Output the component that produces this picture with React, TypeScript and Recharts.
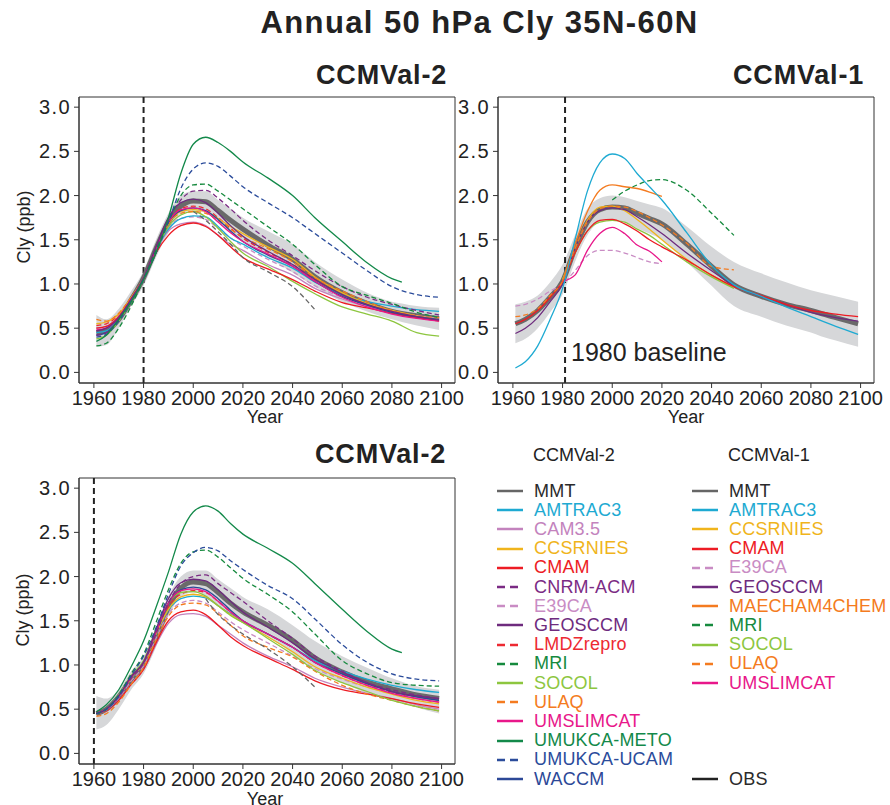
import React from 'react'
import { ComposedChart, Line, Area, XAxis, YAxis, ReferenceLine, ReferenceArea } from 'recharts'

const n = null

// sample years shared by every series (null = no value at that year)
const YEARS = [1961, 1965, 1970, 1975, 1980, 1985, 1990, 1995, 2000, 2005, 2010, 2015, 2020, 2030, 2040, 2049, 2060, 2070, 2080, 2084, 2090, 2099]
const XTICKS = [1960, 1980, 2000, 2020, 2040, 2060, 2080, 2100]
const YTICKS = [0, 0.5, 1, 1.5, 2, 2.5, 3]

// ---- top left: CCMVal-2, 1980 baseline
const p1Lo = [0.29, 0.31, 0.5, 0.75, 0.98, 1.3, 1.58, 1.78, 1.83, 1.8, 1.7, 1.58, 1.48, 1.3, 1.13, 0.97, 0.8, 0.69, 0.6, 0.57, 0.53, 0.48]
const p1Hi = [0.65, 0.6, 0.72, 0.92, 1.15, 1.5, 1.8, 2.0, 2.05, 2.05, 1.95, 1.85, 1.75, 1.6, 1.45, 1.25, 1.05, 0.9, 0.8, 0.78, 0.75, 0.73]
const p1MMT = [0.45, 0.47, 0.6, 0.82, 1.07, 1.4, 1.7, 1.88, 1.94, 1.93, 1.83, 1.72, 1.62, 1.44, 1.28, 1.08, 0.9, 0.78, 0.69, n, 0.64, 0.61]
const p1Meto = [0.35, 0.42, 0.6, 0.8, 1.05, 1.35, 1.75, 2.25, 2.58, 2.66, 2.6, 2.5, 2.38, 2.2, 2.0, 1.75, 1.48, 1.24, 1.06, 1.02, n, n]
const p1Ucam = [0.4, 0.43, 0.58, 0.8, 1.05, 1.35, 1.7, 2.08, 2.3, 2.37, 2.33, 2.22, 2.1, 1.92, 1.75, 1.57, 1.35, 1.15, 0.97, n, 0.88, 0.85]
const p1Mri = [0.3, 0.33, 0.5, 0.75, 1.05, 1.38, 1.7, 2.0, 2.12, 2.13, 2.05, 1.95, 1.85, 1.65, 1.45, 1.22, 0.97, 0.87, 0.78, n, 0.68, 0.62]
const p1Cnrm = [0.42, 0.45, 0.6, 0.82, 1.07, 1.4, 1.72, 1.95, 2.05, 2.06, 1.97, 1.85, 1.72, 1.5, 1.32, 1.15, 0.97, 0.85, 0.77, n, 0.7, 0.65]
const p1Gray = [n, n, n, n, n, n, n, n, 1.82, 1.72, 1.59, 1.45, 1.3, 1.14, 0.97, 0.71, n, n, n, n, n, n]
const p1Cmam = [0.5, 0.52, 0.63, 0.83, 1.05, 1.35, 1.55, 1.66, 1.69, 1.65, 1.55, 1.42, 1.3, 1.17, 1.05, 0.92, 0.79, 0.73, 0.67, n, 0.62, 0.58]
const p1Socol = [0.38, 0.42, 0.58, 0.8, 1.05, 1.38, 1.65, 1.78, 1.82, 1.76, 1.63, 1.48, 1.35, 1.2, 1.03, 0.89, 0.74, 0.66, 0.58, n, 0.45, 0.41]
const p1Amtrac = [0.45, 0.47, 0.6, 0.82, 1.05, 1.38, 1.62, 1.74, 1.77, 1.76, 1.65, 1.52, 1.45, 1.3, 1.18, 1.02, 0.88, 0.8, 0.75, n, 0.71, 0.69]
const p1Cam = [0.5, 0.52, 0.63, 0.83, 1.05, 1.38, 1.6, 1.68, 1.7, 1.66, 1.55, 1.45, 1.38, 1.22, 1.1, 0.95, 0.83, 0.74, 0.68, n, 0.64, 0.61]
const p1Ccsr = [0.55, 0.57, 0.66, 0.85, 1.07, 1.4, 1.68, 1.82, 1.84, 1.82, 1.74, 1.65, 1.57, 1.42, 1.28, 1.08, 0.9, 0.78, 0.7, n, 0.64, 0.6]
const p1Geos = [0.47, 0.5, 0.62, 0.83, 1.07, 1.42, 1.75, 1.92, 1.96, 1.92, 1.8, 1.66, 1.54, 1.37, 1.22, 1.05, 0.88, 0.77, 0.69, n, 0.63, 0.59]
const p1Waccm = [0.42, 0.45, 0.6, 0.82, 1.06, 1.4, 1.7, 1.83, 1.86, 1.83, 1.73, 1.6, 1.48, 1.33, 1.2, 1.03, 0.86, 0.76, 0.68, n, 0.63, 0.6]
const p1Umsl = [0.48, 0.5, 0.62, 0.83, 1.06, 1.4, 1.7, 1.84, 1.86, 1.82, 1.7, 1.58, 1.48, 1.34, 1.2, 1.03, 0.85, 0.74, 0.66, n, 0.61, 0.58]
const p1Ulaq = [0.6, 0.58, 0.67, 0.85, 1.07, 1.4, 1.68, 1.8, 1.82, 1.8, 1.72, 1.62, 1.53, 1.4, 1.25, 1.07, 0.92, 0.8, 0.7, n, 0.64, 0.62]
const p1Lmdz = [0.53, 0.55, 0.65, 0.84, 1.06, 1.4, 1.7, 1.85, 1.88, 1.85, 1.75, 1.63, 1.52, 1.36, 1.22, 1.05, 0.88, 0.77, 0.7, n, 0.64, 0.6]
const p1E39 = [0.5, 0.52, 0.64, 0.84, 1.06, 1.38, 1.64, 1.74, 1.76, 1.73, 1.63, 1.52, 1.43, 1.28, 1.14, 0.98, 0.85, 0.76, 0.69, n, 0.64, 0.61]

// ---- top right: CCMVal-1, 1980 baseline
const p2Lo = [0.33, 0.38, 0.5, 0.68, 0.88, 1.25, 1.55, 1.7, 1.73, 1.7, 1.63, 1.57, 1.5, 1.25, 0.98, 0.75, 0.63, 0.53, 0.45, 0.41, 0.36, 0.29]
const p2Hi = [0.77, 0.8, 0.87, 1.02, 1.22, 1.55, 1.85, 1.97, 2.0, 1.98, 1.94, 1.9, 1.86, 1.65, 1.42, 1.25, 1.12, 1.02, 0.93, 0.9, 0.86, 0.8]
const p2MMT = [0.55, 0.6, 0.7, 0.85, 1.03, 1.4, 1.7, 1.84, 1.87, 1.86, 1.8, 1.74, 1.68, 1.45, 1.2, 0.99, 0.86, 0.77, 0.7, n, 0.62, 0.55]
const p2Amtrac = [0.05, 0.12, 0.3, 0.6, 0.95, 1.5, 2.05, 2.37, 2.47, 2.42, 2.25, 2.1, 1.95, 1.58, 1.21, 0.99, 0.86, 0.74, 0.63, n, 0.52, 0.43]
const p2Maecham = [n, n, n, n, 1.03, 1.45, 1.82, 2.06, 2.12, 2.1, 2.08, 2.04, 1.99, n, n, n, n, n, n, n, n, n]
const p2Mri = [n, n, n, n, n, n, n, n, 1.95, 2.05, 2.12, 2.17, 2.18, 2.06, 1.8, 1.55, n, n, n, n, n, n]
const p2E39 = [0.75, 0.77, 0.83, 0.92, 1.0, 1.15, 1.32, 1.38, 1.38, 1.35, 1.3, 1.25, 1.23, n, n, n, n, n, n, n, n, n]
const p2Umsl = [n, n, n, n, 1.03, 1.1, 1.38, 1.57, 1.64, 1.57, 1.44, 1.37, 1.25, n, n, n, n, n, n, n, n, n]
const p2Cmam = [0.55, 0.6, 0.7, 0.85, 1.03, 1.35, 1.6, 1.72, 1.73, 1.68, 1.6, 1.5, 1.42, 1.27, 1.1, 0.97, 0.87, 0.77, 0.7, n, 0.66, 0.63]
const p2Geos = [0.44, 0.5, 0.62, 0.8, 1.0, 1.4, 1.7, 1.83, 1.86, 1.84, 1.76, 1.67, 1.57, 1.35, 1.15, 0.98, 0.86, 0.77, 0.68, n, 0.62, 0.58]
const p2Socol = [n, n, n, n, 1.05, 1.35, 1.6, 1.7, 1.72, 1.7, 1.62, 1.55, 1.45, 1.25, 1.08, 0.95, n, n, n, n, n, n]
const p2Ccsr = [n, n, n, n, 1.05, 1.4, 1.72, 1.87, 1.88, 1.83, 1.73, 1.62, 1.5, 1.28, 1.1, 0.96, n, n, n, n, n, n]
const p2Ulaq = [0.63, 0.65, 0.72, 0.87, 1.03, 1.4, 1.7, 1.85, 1.88, 1.87, 1.82, 1.75, 1.67, 1.46, 1.2, 1.16, n, n, n, n, n, n]

// ---- bottom left: CCMVal-2, 1960 baseline
const p3Lo = [0.27, 0.32, 0.5, 0.72, 0.9, 1.2, 1.55, 1.77, 1.82, 1.78, 1.67, 1.57, 1.47, 1.32, 1.13, 0.95, 0.8, 0.68, 0.6, 0.57, 0.52, 0.45]
const p3Hi = [0.65, 0.62, 0.72, 0.93, 1.1, 1.42, 1.78, 2.0, 2.07, 2.07, 1.97, 1.87, 1.77, 1.63, 1.45, 1.27, 1.1, 0.97, 0.85, 0.81, 0.76, 0.72]
const p3MMT = [0.45, 0.5, 0.64, 0.84, 1.0, 1.3, 1.65, 1.87, 1.94, 1.92, 1.82, 1.7, 1.6, 1.45, 1.28, 1.08, 0.92, 0.81, 0.73, n, 0.66, 0.62]
const p3Meto = [0.47, 0.55, 0.72, 0.98, 1.27, 1.65, 2.05, 2.48, 2.73, 2.8, 2.74, 2.6, 2.48, 2.32, 2.15, 1.92, 1.63, 1.38, 1.18, 1.14, n, n]
const p3Ucam = [0.45, 0.5, 0.65, 0.88, 1.1, 1.42, 1.8, 2.12, 2.27, 2.33, 2.29, 2.18, 2.08, 1.9, 1.75, 1.52, 1.23, 1.03, 0.9, n, 0.84, 0.82]
const p3Mri = [0.45, 0.5, 0.66, 0.9, 1.12, 1.48, 1.85, 2.15, 2.28, 2.3, 2.22, 2.1, 1.98, 1.8, 1.6, 1.35, 1.05, 0.9, 0.8, n, 0.77, 0.76]
const p3Cnrm = [0.45, 0.5, 0.64, 0.85, 1.02, 1.35, 1.7, 1.92, 2.0, 2.02, 1.92, 1.82, 1.72, 1.5, 1.3, 1.1, 0.93, 0.8, 0.72, n, 0.66, 0.62]
const p3Gray = [n, n, n, n, n, n, n, n, n, 1.75, 1.57, 1.45, 1.35, 1.18, 0.98, 0.75, n, n, n, n, n, n]
const p3Ulaq = [0.42, 0.45, 0.58, 0.78, 0.97, 1.28, 1.55, 1.68, 1.7, 1.68, 1.58, 1.45, 1.33, 1.2, 1.09, 0.93, 0.77, 0.67, 0.6, n, 0.53, 0.48]
const p3Cmam = [0.45, 0.48, 0.6, 0.78, 0.95, 1.25, 1.5, 1.6, 1.62, 1.57, 1.45, 1.32, 1.22, 1.08, 0.95, 0.82, 0.72, 0.67, 0.62, n, 0.56, 0.52]
const p3Cam = [0.45, 0.48, 0.6, 0.78, 0.95, 1.23, 1.47, 1.57, 1.58, 1.55, 1.45, 1.35, 1.25, 1.1, 0.98, 0.85, 0.75, 0.68, 0.62, n, 0.55, 0.5]
const p3Amtrac = [0.45, 0.49, 0.63, 0.85, 1.02, 1.35, 1.62, 1.75, 1.78, 1.76, 1.67, 1.58, 1.5, 1.35, 1.2, 1.05, 0.93, 0.84, 0.77, n, 0.72, 0.69]
const p3Ccsr = [0.45, 0.5, 0.64, 0.85, 1.02, 1.35, 1.63, 1.77, 1.8, 1.77, 1.67, 1.57, 1.48, 1.32, 1.15, 0.98, 0.85, 0.75, 0.67, n, 0.6, 0.56]
const p3Socol = [0.45, 0.5, 0.66, 0.88, 1.05, 1.4, 1.7, 1.82, 1.83, 1.78, 1.67, 1.56, 1.48, 1.3, 1.12, 0.94, 0.8, 0.7, 0.6, n, 0.53, 0.48]
const p3Geos = [0.45, 0.5, 0.65, 0.87, 1.03, 1.4, 1.75, 1.93, 1.97, 1.95, 1.85, 1.72, 1.6, 1.43, 1.25, 1.07, 0.92, 0.8, 0.7, n, 0.65, 0.62]
const p3Waccm = [0.45, 0.5, 0.65, 0.86, 1.03, 1.37, 1.7, 1.85, 1.88, 1.85, 1.75, 1.62, 1.5, 1.35, 1.2, 1.03, 0.9, 0.79, 0.7, n, 0.64, 0.6]
const p3Umsl = [0.46, 0.5, 0.64, 0.86, 1.03, 1.37, 1.7, 1.84, 1.86, 1.83, 1.72, 1.6, 1.5, 1.35, 1.2, 1.03, 0.88, 0.77, 0.68, n, 0.62, 0.58]
const p3Lmdz = [0.45, 0.5, 0.64, 0.85, 1.02, 1.35, 1.66, 1.8, 1.84, 1.82, 1.72, 1.6, 1.5, 1.35, 1.2, 1.03, 0.88, 0.77, 0.69, n, 0.62, 0.58]
const p3E39 = [0.45, 0.49, 0.62, 0.82, 0.99, 1.3, 1.58, 1.7, 1.73, 1.7, 1.6, 1.49, 1.4, 1.25, 1.1, 0.96, 0.84, 0.75, 0.68, n, 0.62, 0.59]

const STYLE: Record<string, { color: string; dash?: boolean }> = {
  MMT: { color: '#6a6a6a' },
  AMTRAC3: { color: '#1eaad2' },
  'CAM3.5': { color: '#c383bd' },
  CCSRNIES: { color: '#f0b41c' },
  CMAM: { color: '#ed1c24' },
  'CNRM-ACM': { color: '#7b2b84', dash: true },
  E39CA: { color: '#c98cc4', dash: true },
  GEOSCCM: { color: '#6e2b7e' },
  LMDZrepro: { color: '#ed2a32', dash: true },
  MRI: { color: '#168a3e', dash: true },
  SOCOL: { color: '#8dc63f' },
  ULAQ: { color: '#f47b20', dash: true },
  UMSLIMCAT: { color: '#e8178a' },
  'UMUKCA-METO': { color: '#13894a' },
  'UMUKCA-UCAM': { color: '#2b4c9b', dash: true },
  WACCM: { color: '#2c4897' },
  MAECHAM4CHEM: { color: '#f47b20' },
  OBS: { color: '#222222' },
  other: { color: '#666666', dash: true },
}

const LEGEND_V2 = ['MMT', 'AMTRAC3', 'CAM3.5', 'CCSRNIES', 'CMAM', 'CNRM-ACM', 'E39CA', 'GEOSCCM', 'LMDZrepro', 'MRI', 'SOCOL', 'ULAQ', 'UMSLIMCAT', 'UMUKCA-METO', 'UMUKCA-UCAM', 'WACCM']
const LEGEND_V1 = ['MMT', 'AMTRAC3', 'CCSRNIES', 'CMAM', 'E39CA', 'GEOSCCM', 'MAECHAM4CHEM', 'MRI', 'SOCOL', 'ULAQ', 'UMSLIMCAT']

type Series = [string, (number | null)[]]

const panel1: Series[] = [
  ['LMDZrepro', p1Lmdz], ['E39CA', p1E39], ['CAM3.5', p1Cam], ['AMTRAC3', p1Amtrac], ['SOCOL', p1Socol],
  ['CCSRNIES', p1Ccsr], ['ULAQ', p1Ulaq], ['CMAM', p1Cmam], ['WACCM', p1Waccm], ['UMSLIMCAT', p1Umsl],
  ['GEOSCCM', p1Geos], ['other', p1Gray], ['CNRM-ACM', p1Cnrm], ['MRI', p1Mri], ['UMUKCA-UCAM', p1Ucam],
  ['UMUKCA-METO', p1Meto],
]
const panel2: Series[] = [
  ['E39CA', p2E39], ['CCSRNIES', p2Ccsr], ['SOCOL', p2Socol], ['GEOSCCM', p2Geos], ['CMAM', p2Cmam],
  ['UMSLIMCAT', p2Umsl], ['ULAQ', p2Ulaq], ['MAECHAM4CHEM', p2Maecham], ['MRI', p2Mri], ['AMTRAC3', p2Amtrac],
]
const panel3: Series[] = [
  ['LMDZrepro', p3Lmdz], ['E39CA', p3E39], ['CAM3.5', p3Cam], ['CMAM', p3Cmam], ['ULAQ', p3Ulaq],
  ['AMTRAC3', p3Amtrac], ['CCSRNIES', p3Ccsr], ['SOCOL', p3Socol], ['WACCM', p3Waccm], ['UMSLIMCAT', p3Umsl],
  ['GEOSCCM', p3Geos], ['other', p3Gray], ['CNRM-ACM', p3Cnrm], ['MRI', p3Mri], ['UMUKCA-UCAM', p3Ucam],
  ['UMUKCA-METO', p3Meto],
]

const FONT = '"Liberation Sans", Arial, Helvetica, sans-serif'
const AXIS = '#333'

function buildRows(lo: number[], hi: number[], mmt: (number | null)[], series: Series[]) {
  return YEARS.map((year, i) => {
    const row: Record<string, any> = { year, band: [lo[i], hi[i]], MMT: mmt[i] }
    series.forEach(([, vals], k) => { row['s' + k] = vals[i] })
    return row
  })
}

function Panel({ left, top, width, mLeft, mRight, rows, series, baseline }: any) {
  return (
    <div style={{ position: 'absolute', left, top }}>
      <ComposedChart width={width} height={340} data={rows} margin={{ top: 7, right: mRight, bottom: 17, left: mLeft }}>
        <XAxis type="number" dataKey="year" domain={[1954, 2105.4]} ticks={XTICKS} interval={0} allowDataOverflow
          height={30} tickSize={5} tickMargin={3} stroke={AXIS}
          tick={{ fill: '#222', fontSize: 20, fontFamily: FONT }} />
        <YAxis type="number" domain={[-0.12, 3.115]} ticks={YTICKS} interval={0} allowDataOverflow
          width={60} tickSize={5} tickMargin={3} stroke={AXIS}
          tickFormatter={(v: number) => v.toFixed(1)}
          tick={{ fill: '#222', fontSize: 20, fontFamily: FONT, letterSpacing: 1.4 }} />
        <ReferenceArea x1={1954} x2={2105.4} y1={-0.12} y2={3.115} fill="none" stroke={AXIS} strokeWidth={1} ifOverflow="visible" />
        <Area dataKey="band" type="monotone" fill="#d6d7d9" fillOpacity={1} stroke="none" isAnimationActive={false} />
        <ReferenceLine x={baseline} stroke="#222" strokeWidth={2} strokeDasharray="6 4" />
        <Line dataKey="MMT" type="monotone" stroke={STYLE.MMT.color} strokeWidth={5} dot={false} connectNulls isAnimationActive={false} />
        {series.map(([name]: Series, k: number) => (
          <Line key={k} dataKey={'s' + k} type="monotone" stroke={STYLE[name].color}
            strokeWidth={1.3} strokeDasharray={STYLE[name].dash ? '5 3' : undefined}
            dot={false} connectNulls isAnimationActive={false} />
        ))}
      </ComposedChart>
    </div>
  )
}

function LegendCol({ x, title, names, obs }: { x: number; title: string; names: string[]; obs?: boolean }) {
  const row = (name: string, i: number) => {
    const st = STYLE[name]
    const textColor = name === 'MMT' || name === 'OBS' ? '#2a2a2a' : st.color
    return (
      <div key={name} style={{ position: 'absolute', left: 0, top: 491 + i * 19.2 - 11, height: 22, display: 'flex', alignItems: 'center' }}>
        <svg width={30} height={6}>
          <line x1={1} x2={27} y1={3} y2={3} stroke={name === 'MMT' ? '#666' : st.color} strokeWidth={2.5}
            strokeDasharray={st.dash ? '8 5' : undefined} />
        </svg>
        <span style={{ marginLeft: 8, fontSize: 18, color: textColor, whiteSpace: 'nowrap', letterSpacing: 0.2 }}>{name}</span>
      </div>
    )
  }
  return (
    <div style={{ position: 'absolute', left: x, top: 0, fontFamily: FONT }}>
      <div style={{ position: 'absolute', left: 37, top: 445, fontSize: 18, color: '#222', whiteSpace: 'nowrap' }}>{title}</div>
      {names.map(row)}
      {obs && row('OBS', 15)}
    </div>
  )
}

const rows1 = buildRows(p1Lo, p1Hi, p1MMT, panel1)
const rows2 = buildRows(p2Lo, p2Hi, p2MMT, panel2)
const rows3 = buildRows(p3Lo, p3Hi, p3MMT, panel3)

const label = (text: string, style: React.CSSProperties) => (
  <div style={{ position: 'absolute', fontFamily: FONT, color: '#222', whiteSpace: 'nowrap', ...style }}>{text}</div>
)

export default function App() {
  return (
    <div style={{ position: 'absolute', left: 0, top: 0, width: 890, height: 805, background: '#fff', overflow: 'hidden', fontFamily: FONT }}>
      {label('Annual 50 hPa Cly 35N-60N', { left: 0, width: 959, top: 5, textAlign: 'center', fontSize: 31, fontWeight: 700, letterSpacing: 1.4 })}

      <Panel left={0} top={90} width={470} mLeft={19} mRight={15} rows={rows1} series={panel1} baseline={1980} />
      <Panel left={430} top={90} width={460} mLeft={8} mRight={16} rows={rows2} series={panel2} baseline={1981} />
      <Panel left={0} top={471} width={470} mLeft={19} mRight={15} rows={rows3} series={panel3} baseline={1960} />

      {label('CCMVal-2', { right: 890 - 447, top: 60, fontSize: 27, fontWeight: 700, letterSpacing: 0.8 })}
      {label('CCMVal-1', { right: 890 - 864, top: 60, fontSize: 27, fontWeight: 700, letterSpacing: 0.8 })}
      {label('CCMVal-2', { right: 890 - 446, top: 439, fontSize: 27, fontWeight: 700, letterSpacing: 0.8 })}

      {label('1980 baseline', { left: 571, top: 338, fontSize: 25 })}

      {label('Cly (ppb)', { left: 24, top: 227, fontSize: 18, transform: 'translate(-50%, -50%) rotate(-90deg)' })}
      {label('Cly (ppb)', { left: 23, top: 610, fontSize: 18, transform: 'translate(-50%, -50%) rotate(-90deg)' })}
      {label('Year', { left: 265, top: 417, fontSize: 18, transform: 'translate(-50%, -50%)' })}
      {label('Year', { left: 686, top: 417, fontSize: 18, transform: 'translate(-50%, -50%)' })}
      {label('Year', { left: 265, top: 799, fontSize: 18, transform: 'translate(-50%, -50%)' })}

      <LegendCol x={496} title="CCMVal-2" names={LEGEND_V2} />
      <LegendCol x={691} title="CCMVal-1" names={LEGEND_V1} obs />
    </div>
  )
}
